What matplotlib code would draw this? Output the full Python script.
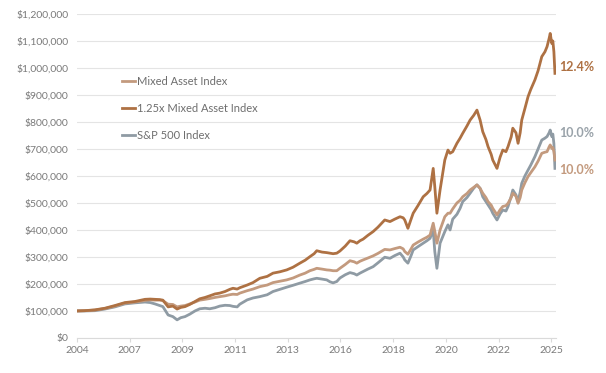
import matplotlib
matplotlib.use("Agg")
import matplotlib.pyplot as plt
from matplotlib.ticker import FuncFormatter
import numpy as np


# position along the axis, in tick intervals (tick 0 = 2004 ... tick 9 = 2025)
POS = [
    0.00, 0.15, 0.34, 0.53, 0.72, 0.91, 1.10, 1.29, 1.39, 1.48,
    1.57, 1.63, 1.73, 1.82, 1.90, 1.97, 2.05, 2.14, 2.24, 2.33,
    2.43, 2.52, 2.62, 2.71, 2.81, 2.90, 2.96, 3.04, 3.09, 3.23,
    3.34, 3.47, 3.61, 3.72, 3.85, 3.98, 4.10, 4.23, 4.33, 4.42,
    4.50, 4.55, 4.65, 4.74, 4.80, 4.86, 4.93, 4.99, 5.09, 5.18,
    5.26, 5.31, 5.37, 5.43, 5.52, 5.62, 5.71, 5.84, 5.94, 6.03,
    6.13, 6.19, 6.22, 6.28, 6.34, 6.38, 6.47, 6.57, 6.64, 6.70,
    6.76, 6.79, 6.83, 6.89, 6.98, 7.04, 7.08, 7.13, 7.21, 7.27,
    7.32, 7.40, 7.46, 7.53, 7.59, 7.65, 7.70, 7.76, 7.80, 7.86,
    7.89, 7.97, 8.03, 8.08, 8.14, 8.18, 8.24, 8.27, 8.33, 8.37,
    8.41, 8.44, 8.50, 8.56, 8.61, 8.69, 8.75, 8.82, 8.88, 8.92,
    8.96, 8.98, 9.01, 9.03, 9.05, 9.07,
]

# values in $ thousands
LEVERED = [
    100, 101, 104, 110, 120, 131, 135, 143, 144, 143,
    142, 140, 115, 118, 107, 113, 116, 124, 135, 145,
    150, 156, 163, 166, 172, 180, 184, 181, 186, 196,
    205, 221, 228, 240, 245, 252, 262, 277, 288, 301,
    312, 323, 318, 316, 314, 312, 314, 322, 340, 360,
    356, 351, 360, 366, 380, 394, 410, 437, 431, 440,
    449, 445, 437, 406, 440, 462, 490, 523, 535, 548,
    628, 560, 462, 548, 659, 696, 684, 690, 721, 740,
    758, 785, 807, 825, 844, 807, 764, 735, 709, 680,
    659, 628, 670, 696, 690, 709, 745, 777, 760, 721,
    760, 807, 850, 894, 920, 956, 990, 1042, 1060, 1079,
    1110, 1128, 1091, 1100, 1060, 980,
]

MIXED = [
    100, 101, 103, 109, 118, 129, 133, 139, 141, 140,
    140, 138, 125, 124, 115, 118, 120, 126, 133, 140,
    143, 146, 150, 153, 156, 160, 162, 161, 166, 175,
    181, 190, 196, 205, 210, 215, 222, 233, 240, 249,
    254, 258, 255, 252, 251, 249, 249, 258, 272, 286,
    282, 277, 284, 289, 296, 304, 313, 328, 326, 331,
    336, 330, 320, 310, 330, 344, 355, 366, 373, 381,
    425, 395, 351, 400, 449, 462, 462, 478, 500, 510,
    523, 535, 548, 558, 567, 554, 536, 520, 505, 492,
    480, 456, 475, 487, 490, 499, 520, 536, 525, 499,
    520, 548, 575, 598, 612, 634, 655, 684, 688, 690,
    708, 715, 702, 705, 690, 659,
]

SP500 = [
    100, 100, 101, 107, 115, 126, 130, 133, 131, 126,
    120, 116, 85, 79, 67, 75, 79, 88, 100, 108,
    110, 108, 112, 118, 121, 120, 117, 115, 125, 141,
    148, 153, 160, 172, 180, 188, 195, 203, 209, 215,
    219, 221, 218, 215, 208, 204, 209, 222, 234, 242,
    238, 233, 240, 246, 255, 264, 278, 299, 295, 305,
    314, 300, 289, 277, 305, 326, 338, 351, 360, 369,
    400, 320, 258, 351, 394, 419, 400, 440, 458, 480,
    505, 520, 536, 555, 567, 554, 523, 505, 493, 475,
    462, 437, 460, 474, 470, 487, 525, 548, 530, 505,
    540, 573, 600, 622, 640, 672, 700, 733, 740, 746,
    760, 770, 746, 755, 720, 628,
]

TICK_LABELS = ["2004", "2007", "2009", "2011", "2013", "2016", "2018", "2020", "2022", "2025"]
SERIES_NAMES = ["Mixed Asset Index", "1.25x Mixed Asset Index", "S&P 500 Index"]
END_LABELS = ["12.4%", "10.0%", "10.0%"]

C_LEV = "#AE7143"
C_MIX = "#C39A7E"
C_SP = "#8F9BA4"

plt.rcParams["font.family"] = ["Lato", "DejaVu Sans"]

fig = plt.figure(figsize=(6.06, 3.73), dpi=100)
ax = fig.add_axes([0.127, 0.094, 0.7905, 0.8685])

pos = np.array(POS)
k = 1000
ax.plot(pos, np.array(SP500) * k, color=C_SP, lw=2.0, label=SERIES_NAMES[2], zorder=3)
ax.plot(pos, np.array(MIXED) * k, color=C_MIX, lw=2.0, label=SERIES_NAMES[0], zorder=4)
ax.plot(pos, np.array(LEVERED) * k, color=C_LEV, lw=2.0, label=SERIES_NAMES[1], zorder=5)

ax.set_xlim(0, 9.09)
ax.set_ylim(0, 1200000)
ax.set_yticks(np.arange(0, 1200001, 100000))
ax.yaxis.set_major_formatter(FuncFormatter(lambda v, p: f"${v:,.0f}"))
ax.set_xticks(np.arange(len(TICK_LABELS)))
ax.set_xticklabels(TICK_LABELS)

ax.grid(axis="y", color="#E4E4E4", linewidth=0.8)
ax.set_axisbelow(True)
for side in ["top", "right", "left"]:
    ax.spines[side].set_visible(False)
ax.spines["bottom"].set_color("#DADADA")
ax.tick_params(axis="y", length=0, labelsize=7.5, labelcolor="#7A7A7A", pad=6)
ax.tick_params(axis="x", length=3, color="#DADADA", labelsize=7.5, labelcolor="#7A7A7A", pad=3)

handles, labels = ax.get_legend_handles_labels()
order = [labels.index(n) for n in SERIES_NAMES]
ax.legend([handles[i] for i in order], [labels[i] for i in order],
          loc="upper left", bbox_to_anchor=(0.094, 0.809), frameon=False,
          fontsize=8, labelcolor="#6E6E6E", handlelength=1.2, handletextpad=0.15,
          labelspacing=1.45, borderpad=0, borderaxespad=0)

ax.text(9.15, 1004000, END_LABELS[0], color=C_LEV, fontsize=9, fontweight="bold",
        va="center", ha="left", clip_on=False)
ax.text(9.15, 759000, END_LABELS[1], color="#9AA3AA", fontsize=9, fontweight="bold",
        va="center", ha="left", clip_on=False)
ax.text(9.15, 622000, END_LABELS[2], color=C_MIX, fontsize=9, fontweight="bold",
        va="center", ha="left", clip_on=False)

fig.savefig("out.png", dpi=100)
